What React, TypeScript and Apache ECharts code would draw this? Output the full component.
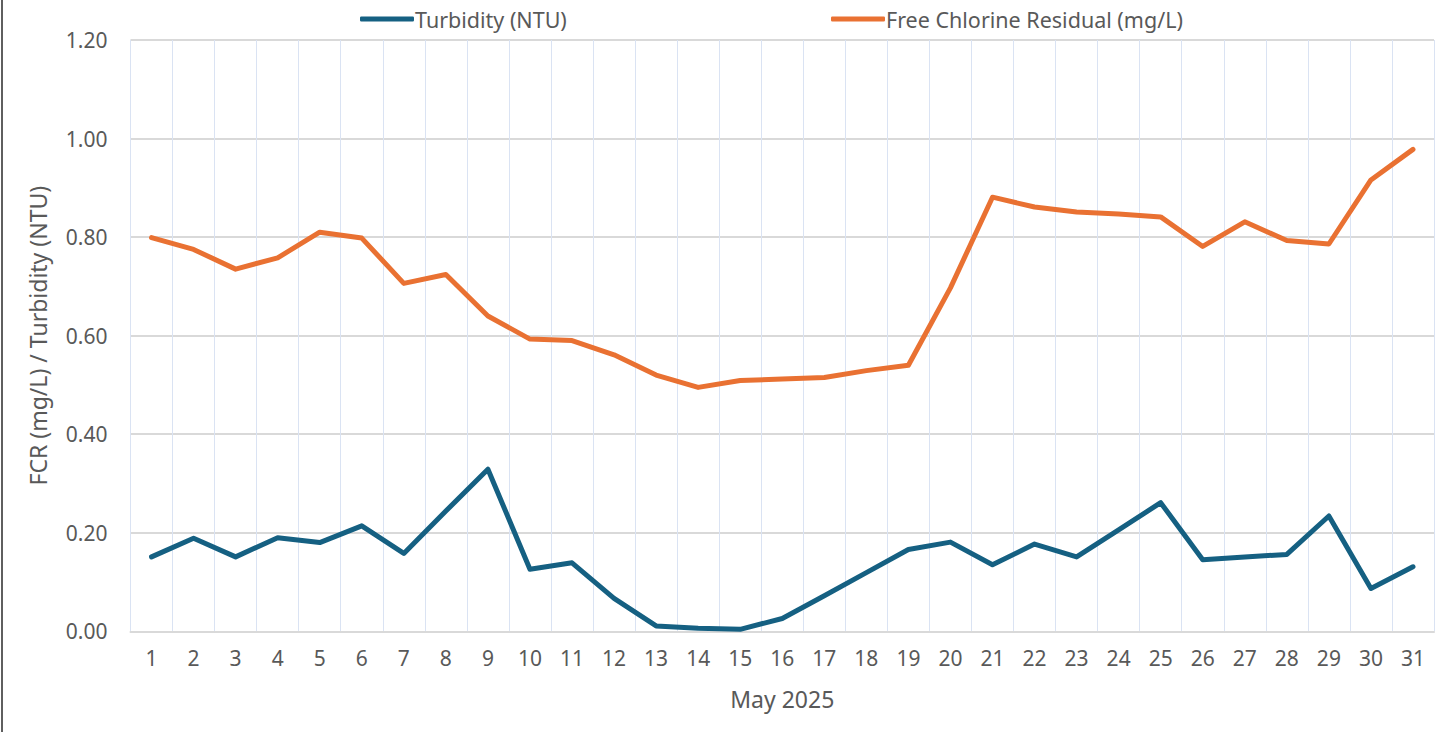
import React, { useEffect, useRef } from "react";
import * as echarts from "echarts";

const days: string[] = Array.from({ length: 31 }, (_, i) => String(i + 1));
const turbidity: number[] = [
  0.151, 0.189, 0.151, 0.19, 0.18, 0.214, 0.158, 0.244, 0.329, 0.126, 0.139,
  0.067, 0.011, 0.006, 0.004, 0.026, 0.072, 0.119, 0.166, 0.181, 0.135,
  0.177, 0.151, 0.206, 0.261, 0.145, 0.151, 0.156, 0.234, 0.087, 0.131,
];
const fcr: number[] = [
  0.799, 0.775, 0.735, 0.758, 0.81, 0.798, 0.706, 0.724, 0.64, 0.593, 0.59,
  0.561, 0.52, 0.495, 0.509, 0.512, 0.515, 0.529, 0.54, 0.697, 0.881,
  0.861, 0.851, 0.847, 0.841, 0.781, 0.831, 0.793, 0.786, 0.916, 0.978,
];
const seriesNames: string[] = ["Turbidity (NTU)", "Free Chlorine Residual (mg/L)"];
const xTitle = "May 2025";
const yTitle = "FCR (mg/L) / Turbidity (NTU)";

const FONT = "'Noto Sans', sans-serif";
const TXT = "#595959";
const BLUE = "#156082";
const ORANGE = "#E97132";

export default function App() {
  const ref = useRef<HTMLDivElement>(null);
  useEffect(() => {
    document.body.style.margin = "0";
    if (!ref.current) return;
    const chart = echarts.init(ref.current, undefined, { renderer: "svg" });
    const legendText = { fontFamily: FONT, fontSize: 21.5, color: TXT, padding: [0, 0, 0, -4] };
    chart.setOption({
      animation: false,
      backgroundColor: "#ffffff",
      textStyle: { fontFamily: FONT },
      grid: { left: 130.5, right: 11, top: 40, bottom: 100.7, containLabel: false },
      legend: [
        {
          data: [seriesNames[0]],
          left: 355,
          top: 3,
          icon: "roundRect",
          itemWidth: 54,
          itemHeight: 5,
          textStyle: legendText,
        },
        {
          data: [seriesNames[1]],
          left: 826,
          top: 3,
          icon: "roundRect",
          itemWidth: 54,
          itemHeight: 5,
          textStyle: legendText,
        },
      ],
      graphic: [
        {
          type: "rect",
          shape: { x: 1, y: 0, width: 2, height: 732 },
          style: { fill: "#5f5f5f" },
        },
      ],
      xAxis: {
        type: "category",
        data: days,
        boundaryGap: true,
        name: xTitle,
        nameLocation: "middle",
        nameGap: 56,
        nameTextStyle: { fontFamily: FONT, fontSize: 23, color: TXT },
        axisLine: { show: true, lineStyle: { color: "#d9d9d9", width: 2 } },
        axisTick: { show: false },
        axisLabel: { fontFamily: FONT, fontSize: 21, color: TXT, margin: 16 },
        splitLine: { show: true, lineStyle: { color: "#dae3f3", width: 1 } },
      },
      yAxis: {
        type: "value",
        min: 0,
        max: 1.2,
        interval: 0.2,
        name: yTitle,
        nameLocation: "middle",
        nameGap: 81,
        nameRotate: 90,
        nameTextStyle: { fontFamily: FONT, fontSize: 23, color: TXT },
        axisLine: { show: false },
        axisTick: { show: false },
        axisLabel: {
          fontFamily: FONT,
          fontSize: 21,
          color: TXT,
          margin: 23,
          formatter: (v: number) => v.toFixed(2),
        },
        splitLine: { show: true, lineStyle: { color: "#d9d9d9", width: 2 } },
      },
      series: [
        {
          name: seriesNames[0],
          type: "line",
          data: turbidity,
          symbol: "none",
          lineStyle: { color: BLUE, width: 5, cap: "round", join: "round" },
          itemStyle: { color: BLUE },
          z: 3,
        },
        {
          name: seriesNames[1],
          type: "line",
          data: fcr,
          symbol: "none",
          lineStyle: { color: ORANGE, width: 5, cap: "round", join: "round" },
          itemStyle: { color: ORANGE },
          z: 3,
        },
      ],
    });
    return () => chart.dispose();
  }, []);
  return <div ref={ref} style={{ width: 1445, height: 732 }} />;
}
